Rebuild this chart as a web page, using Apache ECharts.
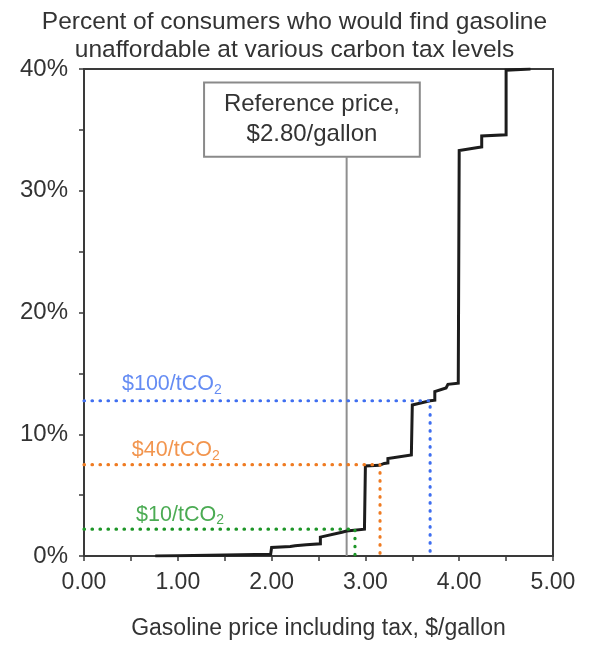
<!DOCTYPE html>
<html>
<head>
<meta charset="utf-8">
<script src="https://cdn.jsdelivr.net/npm/echarts@6/dist/echarts.min.js"></script>
<style>
  html, body { margin: 0; padding: 0; background: #fff; }
  #chart { width: 589px; height: 645px; }
</style>
</head>
<body>
<div id="chart"></div>
<script>
// ---- data ----
const titleLines = ['Percent of consumers who would find gasoline', 'unaffordable at various carbon tax levels'];
const xAxisTitle = 'Gasoline price including tax, $/gallon';
// cumulative curve: price ($/gallon) vs share of consumers (%)
const curvePrice = [0.76, 1.00, 1.50, 1.99, 2.00, 2.20, 2.25, 2.37, 2.52, 2.52, 2.75, 2.80, 2.99, 3.00, 3.15, 3.20, 3.24, 3.24, 3.49, 3.50, 3.69, 3.74, 3.74, 3.86, 3.88, 3.99, 4.00, 4.20, 4.24, 4.24, 4.50, 4.50, 4.76];
const curveShare = [0.00, 0.03, 0.08, 0.15, 0.70, 0.78, 0.85, 0.92, 1.00, 1.55, 1.95, 2.05, 2.20, 7.40, 7.45, 7.60, 7.65, 8.00, 8.30, 12.40, 12.75, 12.80, 13.50, 13.80, 14.10, 14.20, 33.30, 33.55, 33.60, 34.50, 34.60, 39.90, 40.00];
const refPrice = 2.80;
const refLabel = ['Reference price,', '$2.80/gallon'];
const taxNames = ['$10/tCO', '$40/tCO', '$100/tCO'];
const taxPrice = [2.889, 3.156, 3.69];
const taxShare = [2.2, 7.5, 12.75];
const xTicks = [0, 1, 2, 3, 4, 5];
const yTicks = [0, 10, 20, 30, 40];

// ---- styling (not data) ----
const FONT = '"Liberation Sans", Arial, Helvetica, sans-serif';
const taxColors = ['#1e9628', '#ef7b22', '#3f6ff0'];
const taxLabelAnchor = [[0.555, 3.4], [0.51, 8.7], [0.405, 14.1]];
const refBox = [[1.28, 32.8], [3.58, 38.9]];

const chart = echarts.init(document.getElementById('chart'), null, { renderer: 'canvas' });

const curveData = curvePrice.map((p, i) => [p, curveShare[i]]);

const series = [];
// reference price line + box
series.push({
  type: 'line',
  data: [[refPrice, 0], [refPrice, refBox[0][1]]],
  symbol: 'none',
  lineStyle: { color: '#8f8f8f', width: 2 },
  silent: true,
  z: 2,
  markArea: {
    silent: true,
    itemStyle: { color: '#ffffff', borderColor: '#8a8a8a', borderWidth: 2 },
    label: {
      show: true, position: 'inside', formatter: refLabel.join('\n'),
      fontFamily: FONT, fontSize: 24, lineHeight: 30, color: '#333333'
    },
    data: [[{ coord: refBox[0] }, { coord: refBox[1] }]]
  }
});
// main curve
series.push({
  type: 'line',
  data: curveData,
  symbol: 'none',
  lineStyle: { color: '#1c1c1c', width: 3, join: 'miter' },
  z: 3
});
// tax level dotted guides
taxNames.forEach((name, i) => {
  series.push({
    type: 'line',
    data: [[0, taxShare[i]], [taxPrice[i], taxShare[i]], [taxPrice[i], 0]],
    symbol: 'none',
    lineStyle: { color: taxColors[i], width: 3.2, type: [0.5, 7.5], cap: 'round' },
    z: 4
  });
  series.push({
    type: 'scatter',
    data: [taxLabelAnchor[i]],
    symbolSize: 0,
    silent: true,
    label: {
      show: true, position: 'right', distance: 0,
      formatter: '{a|' + name + '}{b|2}',
      rich: {
        a: { fontFamily: FONT, fontSize: 21.5, color: taxColors[i], lineHeight: 26 },
        b: { fontFamily: FONT, fontSize: 14, color: taxColors[i], lineHeight: 26, padding: [12, 0, 0, 0] }
      }
    },
    z: 5
  });
});

const option = {
  animation: false,
  backgroundColor: '#ffffff',
  title: {
    text: titleLines.join('\n'),
    left: 'center', top: 3,
    textStyle: { fontFamily: FONT, fontSize: 24.5, lineHeight: 28, fontWeight: 'normal', color: '#333333' }
  },
  grid: {
    left: 84, right: 36, top: 69, bottom: 84,
    show: true, borderColor: '#3a3a3a', borderWidth: 2, backgroundColor: 'transparent'
  },
  xAxis: {
    type: 'value', min: xTicks[0], max: xTicks[xTicks.length - 1], interval: 1,
    name: xAxisTitle, nameLocation: 'middle', nameGap: 61,
    nameTextStyle: { fontFamily: FONT, fontSize: 23, color: '#333333' },
    axisLine: { show: true, lineStyle: { color: '#3a3a3a', width: 2 } },
    axisTick: { show: true, inside: false, length: 5, lineStyle: { color: '#3a3a3a', width: 1.5 } },
    minorTick: { show: true, splitNumber: 2, length: 5, lineStyle: { color: '#3a3a3a', width: 1.5 } },
    splitLine: { show: false },
    axisLabel: { fontFamily: FONT, fontSize: 23, color: '#333333', margin: 15, formatter: v => v.toFixed(2) }
  },
  yAxis: {
    type: 'value', min: yTicks[0], max: yTicks[yTicks.length - 1], interval: 10,
    axisLine: { show: true, lineStyle: { color: '#3a3a3a', width: 2 } },
    axisTick: { show: true, inside: false, length: 5, lineStyle: { color: '#3a3a3a', width: 1.5 } },
    minorTick: { show: true, splitNumber: 2, length: 5, lineStyle: { color: '#3a3a3a', width: 1.5 } },
    splitLine: { show: false },
    axisLabel: { fontFamily: FONT, fontSize: 24, color: '#333333', margin: 16, formatter: v => v + '%' }
  },
  series: series
};
chart.setOption(option);
</script>
</body>
</html>
